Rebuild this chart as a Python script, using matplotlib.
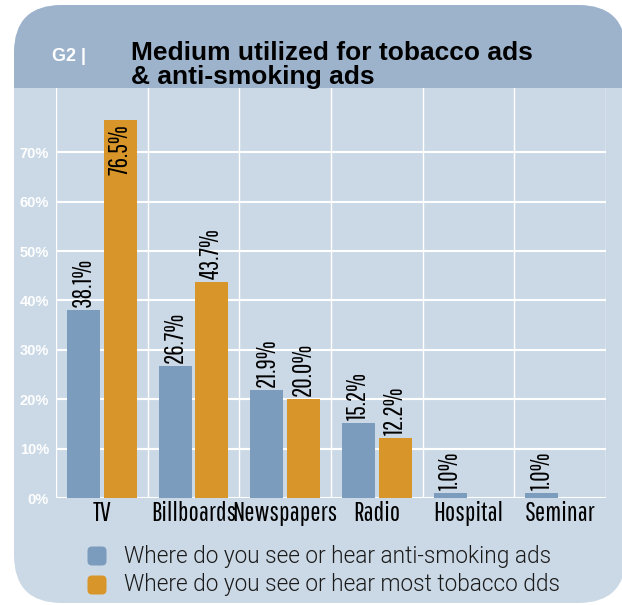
import matplotlib
matplotlib.use("Agg")
import matplotlib.pyplot as plt
from matplotlib.patches import FancyBboxPatch, Rectangle
import numpy as np

categories = ["TV", "Billboards", "Newspapers", "Radio", "Hospital", "Seminar"]
anti_smoking = [38.1, 26.7, 21.9, 15.2, 1.0, 1.0]
tobacco = [76.5, 43.7, 20.0, 12.2, None, None]
series_names = ["Where do you see or hear anti-smoking ads",
                "Where do you see or hear most tobacco dds"]
yticks = [0, 10, 20, 30, 40, 50, 60, 70]

BLUE = "#7b9cbc"
ORANGE = "#d8962a"
PANEL = "#cbd9e6"
HEADER = "#9db3cc"
NARROW = ["Pathway Gothic One", "DejaVu Sans"]

W, H = 622, 605
fig = plt.figure(figsize=(W / 100, H / 100), dpi=100)
fig.patch.set_facecolor("white")

# background panel, pixel coords
bg = fig.add_axes([0, 0, 1, 1], zorder=0)
bg.set_xlim(0, W)
bg.set_ylim(H, 0)
bg.axis("off")
r = 48
panel = FancyBboxPatch((14 + r, 5 + r), 626 - 14 - 2 * r, 603 - 5 - 2 * r,
                       boxstyle=f"round,pad={r}", fc=PANEL, ec="none")
bg.add_patch(panel)
head = Rectangle((0, 0), 700, 88, fc=HEADER, ec="none")
bg.add_patch(head)
head.set_clip_path(panel)

bg.text(52, 61, "G2 |", color="white", fontsize=13, fontweight="bold",
        family="Liberation Sans", va="baseline")
bg.text(131, 60, "Medium utilized for tobacco ads", color="black", fontsize=19,
        fontweight="bold", family="Liberation Sans", va="baseline")
bg.text(131, 84, "& anti-smoking ads", color="black", fontsize=19,
        fontweight="bold", family="Liberation Sans", va="baseline")

# legend
for i, (name, col) in enumerate(zip(series_names, [BLUE, ORANGE])):
    y = 556 + i * 29
    bg.add_patch(FancyBboxPatch((92, y - 5), 10, 10, boxstyle="round,pad=4.5",
                                fc=col, ec="none"))
    bg.text(124, y, name, fontsize=16.3, color="#1a1a1a", family="Roboto",
            fontweight=300, va="center")

# chart
ax = fig.add_axes([56 / W, (H - 498) / H, 550 / W, (498 - 88) / H], zorder=1)
ax.set_facecolor("none")
x = np.arange(len(categories))
bw = 0.36
off = 0.2
ax.bar(x - off, anti_smoking, bw, color=BLUE, zorder=3)
tob_vals = [v if v is not None else 0 for v in tobacco]
ax.bar(x + off, tob_vals, bw, color=ORANGE, zorder=3)

for xi, v in zip(x, anti_smoking):
    ax.text(xi - off, v + 0.6, f"{v:.1f}%", rotation=90, ha="center", va="bottom",
            fontsize=18.5, family=NARROW)
for xi, v in zip(x, tobacco):
    if v is None:
        continue
    inside = v > 70
    ax.text(xi + off, v - 0.8 if inside else v + 0.6, f"{v:.1f}%", rotation=90,
            ha="center", va="top" if inside else "bottom", fontsize=18.5, family=NARROW)

ax.set_xlim(-0.5, len(categories) - 0.5)
ax.set_ylim(0, 83)
ax.set_yticks(yticks)
ax.set_yticklabels([f"{t}%" for t in yticks], color="white", fontweight="bold",
                   fontsize=10.5, family="Liberation Sans")
ax.set_xticks(x)
ax.set_xticklabels(categories, fontsize=19.5, family=NARROW)
ax.set_xticks(np.arange(len(categories) + 1) - 0.5, minor=True)
ax.tick_params(axis="both", which="both", length=0)
ax.tick_params(axis="y", pad=5)
ax.tick_params(axis="x", pad=2)
ax.grid(axis="y", which="major", color="white", lw=1.5, zorder=1)
ax.grid(axis="x", which="minor", color="white", lw=1, zorder=1)
ax.grid(axis="x", which="major", visible=False)
for s in ax.spines.values():
    s.set_visible(False)

fig.savefig("out.png", dpi=100)
